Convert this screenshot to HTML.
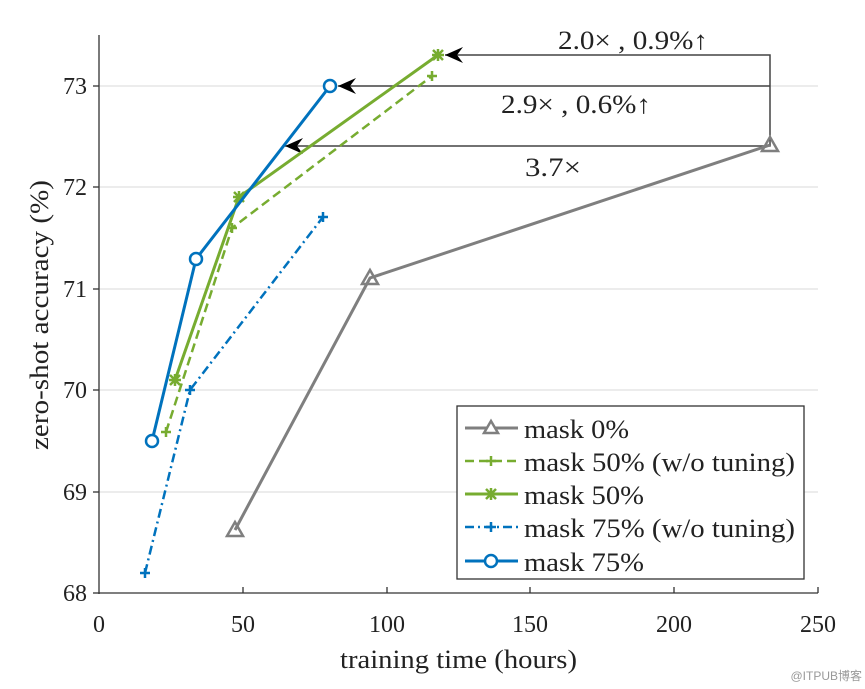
<!DOCTYPE html>
<html><head><style>body{margin:0;background:#fff}svg{display:block}text{font-family:"Liberation Serif",serif;fill:#222}</style></head><body>
<svg width="865" height="689" viewBox="0 0 865 689" xmlns="http://www.w3.org/2000/svg">
<g stroke="#e6e6e6" stroke-width="1.5">
<line x1="99" y1="86" x2="818" y2="86"/><line x1="99" y1="187" x2="818" y2="187"/><line x1="99" y1="289" x2="818" y2="289"/><line x1="99" y1="390" x2="818" y2="390"/><line x1="99" y1="492" x2="818" y2="492"/>
</g>
<g stroke="#333" stroke-width="1.3" fill="none">
<line x1="99" y1="35" x2="99" y2="594"/><line x1="99" y1="593" x2="818" y2="593"/>
<line x1="93" y1="86" x2="99" y2="86"/><line x1="93" y1="187" x2="99" y2="187"/><line x1="93" y1="289" x2="99" y2="289"/><line x1="93" y1="390" x2="99" y2="390"/><line x1="93" y1="492" x2="99" y2="492"/><line x1="93" y1="593" x2="99" y2="593"/>
<line x1="243" y1="593" x2="243" y2="587"/><line x1="387" y1="593" x2="387" y2="587"/><line x1="530" y1="593" x2="530" y2="587"/><line x1="674" y1="593" x2="674" y2="587"/><line x1="818" y1="593" x2="818" y2="587"/>
</g>
<g font-size="24" text-anchor="end">
<text x="87" y="94">73</text><text x="87" y="195">72</text><text x="87" y="297">71</text><text x="87" y="398">70</text><text x="87" y="500">69</text><text x="87" y="601">68</text></g>
<g font-size="24" text-anchor="middle">
<text x="99" y="632">0</text><text x="243" y="632">50</text><text x="387" y="632">100</text><text x="530" y="632">150</text><text x="674" y="632">200</text><text x="818" y="632">250</text></g>
<text x="340" y="668" font-size="26" textLength="237" lengthAdjust="spacingAndGlyphs">training time (hours)</text>
<text transform="translate(48,450) rotate(-90)" font-size="26" textLength="270" lengthAdjust="spacingAndGlyphs">zero-shot accuracy (%)</text>
<g stroke="#444" stroke-width="1.5" fill="none">
<polyline points="445,55 770,55 770,146 285,146"/><line x1="338" y1="86" x2="770" y2="86"/></g>
<g fill="#000">
<path d="M445,55 l18,-8 l-6,8 l6,8z"/><path d="M338,86 l18,-8 l-6,8 l6,8z"/><path d="M285,146 l18,-8 l-6,8 l6,8z"/></g>
<g font-size="26"><text x="558" y="49" textLength="150" lengthAdjust="spacingAndGlyphs">2.0× , 0.9%↑</text><text x="501" y="113" textLength="150" lengthAdjust="spacingAndGlyphs">2.9× , 0.6%↑</text><text x="525" y="176" textLength="56" lengthAdjust="spacingAndGlyphs">3.7×</text></g>
<polyline points="235,530 370,278 770,145" stroke="#7f7f7f" stroke-width="3" fill="none"/>
<g fill="none" stroke="#7f7f7f" stroke-width="2.5"><path d="M235,522 l8,14 h-16z"/><path d="M370,270 l8,14 h-16z"/><path d="M770,137 l8,14 h-16z"/></g>
<polyline points="166,432 232,228 432,76" stroke="#77ac30" stroke-width="2.5" stroke-dasharray="9,5" fill="none"/>
<polyline points="175,380 239,197 438,55" stroke="#77ac30" stroke-width="3" fill="none"/>
<g stroke="#77ac30" stroke-width="2.5"><path d="M169,380h12M175,374v12M170,375l10,10M180,375l-10,10"/><path d="M233,197h12M239,191v12M234,192l10,10M244,192l-10,10"/><path d="M432,55h12M438,49v12M433,50l10,10M443,50l-10,10"/>
<path d="M161,432h10M166,427v10M227,228h10M232,223v10M427,76h10M432,71v10"/></g>
<polyline points="145,573 190,390 323,217" stroke="#0072bd" stroke-width="2.5" stroke-dasharray="9,4,2,4" fill="none"/>
<g stroke="#0072bd" stroke-width="2.5"><path d="M140,573h10M145,568v10M185,390h10M190,385v10M318,217h10M323,212v10"/></g>
<polyline points="152,441 196,259 330,86" stroke="#0072bd" stroke-width="3" fill="none"/>
<g fill="#fff" stroke="#0072bd" stroke-width="2.5"><circle cx="152" cy="441" r="6"/><circle cx="196" cy="259" r="6"/><circle cx="330" cy="86" r="6"/></g>
<rect x="457" y="406" width="347" height="173" fill="#fff" stroke="#333" stroke-width="1.3"/>
<g stroke-width="3" fill="none">
<line x1="465" y1="428" x2="518" y2="428" stroke="#7f7f7f"/><path d="M491,421 l7,12 h-14z" stroke="#7f7f7f" stroke-width="2.5" fill="#fff"/>
<line x1="465" y1="461" x2="518" y2="461" stroke="#77ac30" stroke-dasharray="9,5" stroke-width="2.5"/><path d="M486,461h10M491,456v10" stroke="#77ac30" stroke-width="2.5"/>
<line x1="465" y1="494" x2="518" y2="494" stroke="#77ac30"/><path d="M485,494h12M491,488v12M486,489l10,10M496,489l-10,10" stroke="#77ac30" stroke-width="2.5"/>
<line x1="465" y1="527" x2="518" y2="527" stroke="#0072bd" stroke-dasharray="9,4,2,4" stroke-width="2.5"/><path d="M486,527h10M491,522v10" stroke="#0072bd" stroke-width="2.5"/>
<line x1="465" y1="561" x2="518" y2="561" stroke="#0072bd"/><circle cx="491" cy="561" r="6" fill="#fff" stroke="#0072bd" stroke-width="2.5"/>
</g>
<g font-size="26"><text x="524" y="438" textLength="105" lengthAdjust="spacingAndGlyphs">mask 0%</text><text x="524" y="471" textLength="271" lengthAdjust="spacingAndGlyphs">mask 50% (w/o tuning)</text><text x="524" y="504" textLength="120" lengthAdjust="spacingAndGlyphs">mask 50%</text><text x="524" y="537" textLength="271" lengthAdjust="spacingAndGlyphs">mask 75% (w/o tuning)</text><text x="524" y="571" textLength="120" lengthAdjust="spacingAndGlyphs">mask 75%</text></g>
<text x="862" y="680" font-size="12" text-anchor="end" style="font-family:'Liberation Sans','Noto Sans CJK SC',sans-serif;fill:#999">@ITPUB博客</text>
</svg></body></html>
